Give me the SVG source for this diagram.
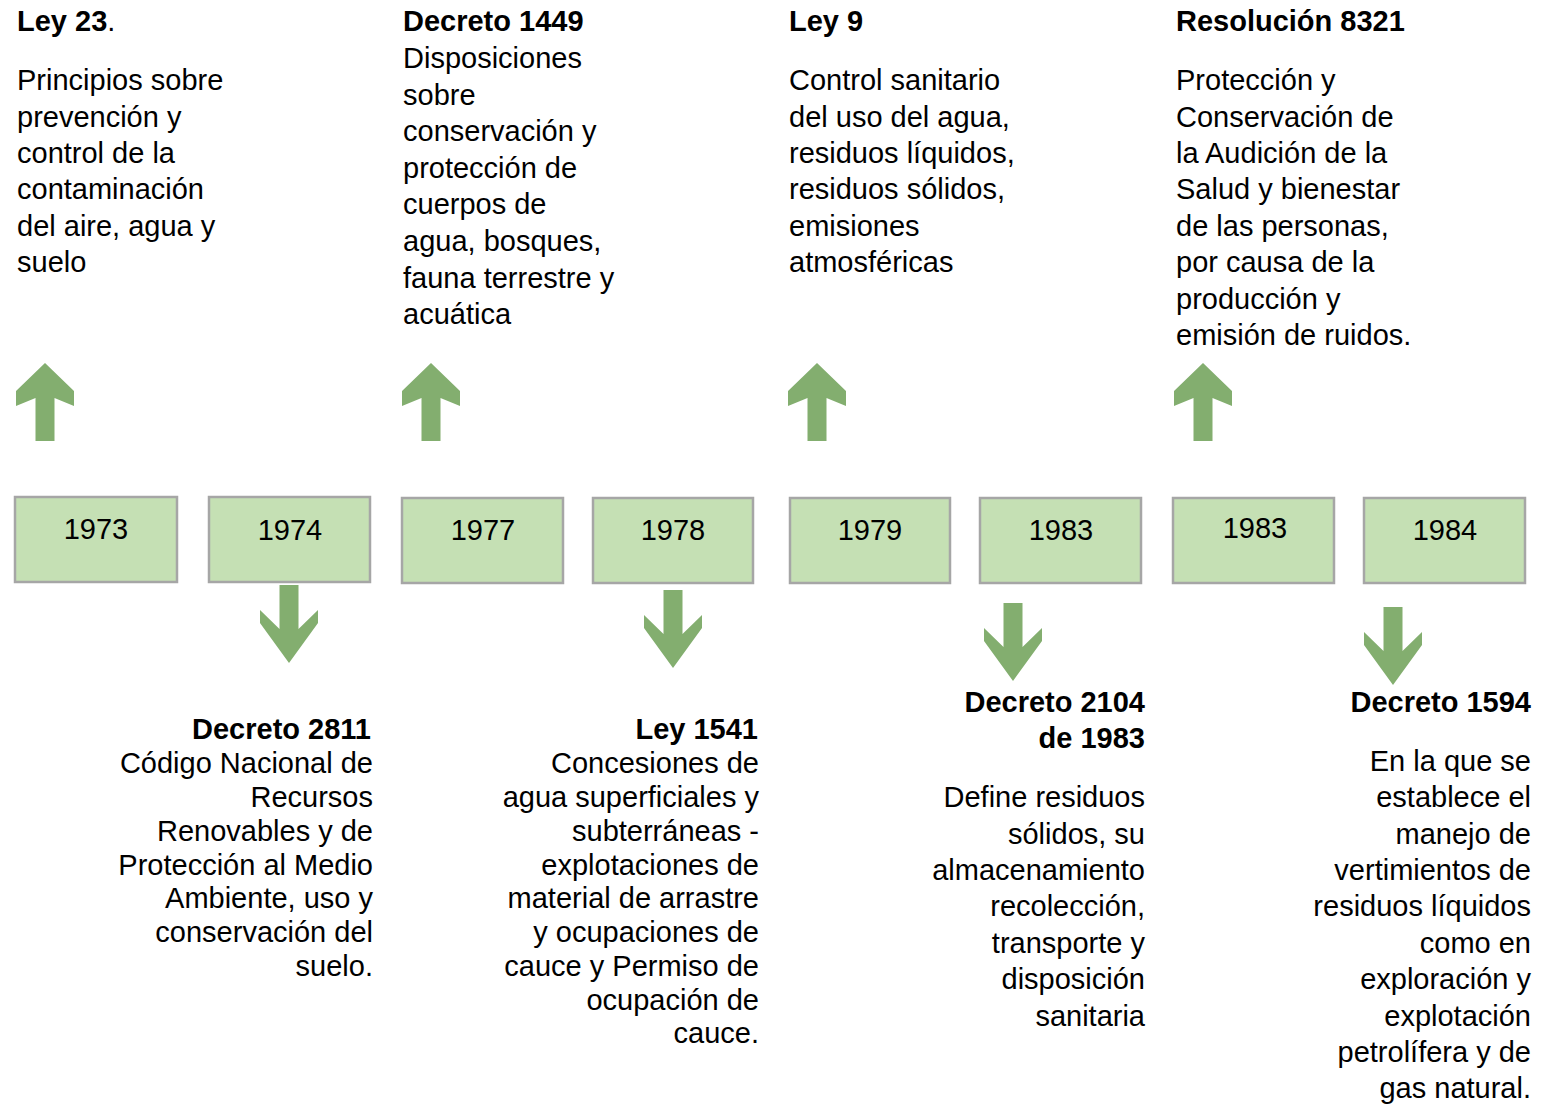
<svg xmlns="http://www.w3.org/2000/svg" width="1541" height="1104" viewBox="0 0 1541 1104">
<style>
  text { font-family: "Liberation Sans", Arial, sans-serif; font-size: 29px; fill: #000; }
  .b { font-weight: bold; }
  .r { text-anchor: end; }
  .yr { text-anchor: middle; }
  .box { fill: #C5E0B4; stroke: #A6A6A6; stroke-width: 2.5; }
  .arr { fill: #83AE6F; }
</style>
<defs>
  <path id="up" d="M0,0 L29,28 L29,43 L9.5,35 L9.5,78 L-9.5,78 L-9.5,35 L-29,43 L-29,28 Z"/>
  <path id="down" d="M0,0 L29,-40 L29,-53 L9.5,-34 L9.5,-78 L-9.5,-78 L-9.5,-34 L-29,-53 L-29,-40 Z"/>
</defs>
<rect width="1541" height="1104" fill="#fff"/>

<g id="connectors">
  <use href="#up" class="arr" x="45" y="363"/>
  <use href="#up" class="arr" x="431" y="363"/>
  <use href="#up" class="arr" x="817" y="363"/>
  <use href="#up" class="arr" x="1203" y="363"/>
  <use href="#down" class="arr" x="289" y="663"/>
  <use href="#down" class="arr" x="673" y="668"/>
  <use href="#down" class="arr" x="1013" y="681"/>
  <use href="#down" class="arr" x="1393" y="685"/>
</g>

<g id="y1973"><rect class="box" x="15" y="497" width="162" height="85"/><text class="yr" x="96" y="539">1973</text></g>
<g id="y1974"><rect class="box" x="209" y="497" width="161" height="85"/><text class="yr" x="290" y="540">1974</text></g>
<g id="y1977"><rect class="box" x="402" y="498" width="161" height="85"/><text class="yr" x="483" y="540">1977</text></g>
<g id="y1978"><rect class="box" x="593" y="498" width="160" height="85"/><text class="yr" x="673" y="540">1978</text></g>
<g id="y1979"><rect class="box" x="790" y="498" width="160" height="85"/><text class="yr" x="870" y="540">1979</text></g>
<g id="y1983a"><rect class="box" x="980" y="498" width="161" height="85"/><text class="yr" x="1061" y="540">1983</text></g>
<g id="y1983b"><rect class="box" x="1173" y="498" width="161" height="85"/><text class="yr" x="1255" y="538">1983</text></g>
<g id="y1984"><rect class="box" x="1364" y="498" width="161" height="85"/><text class="yr" x="1445" y="540">1984</text></g>

<g id="ley23">
  <text x="17" y="31"><tspan class="b">Ley 23</tspan>.</text>
  <text x="17"><tspan x="17" y="90">Principios sobre</tspan><tspan x="17" y="126.5">prevención y</tspan><tspan x="17" y="163">control de la</tspan><tspan x="17" y="199">contaminación</tspan><tspan x="17" y="236">del aire, agua y</tspan><tspan x="17" y="272">suelo</tspan></text>
</g>

<g id="decreto1449">
  <text class="b" x="403" y="31">Decreto 1449</text>
  <text x="403"><tspan x="403" y="68">Disposiciones</tspan><tspan x="403" y="105">sobre</tspan><tspan x="403" y="141">conservación y</tspan><tspan x="403" y="178">protección de</tspan><tspan x="403" y="214">cuerpos de</tspan><tspan x="403" y="251">agua, bosques,</tspan><tspan x="403" y="288">fauna terrestre y</tspan><tspan x="403" y="324">acuática</tspan></text>
</g>

<g id="ley9">
  <text class="b" x="789" y="31">Ley 9</text>
  <text x="789"><tspan x="789" y="90">Control sanitario</tspan><tspan x="789" y="126.5">del uso del agua,</tspan><tspan x="789" y="163">residuos líquidos,</tspan><tspan x="789" y="199">residuos sólidos,</tspan><tspan x="789" y="236">emisiones</tspan><tspan x="789" y="272">atmosféricas</tspan></text>
</g>

<g id="resolucion8321">
  <text class="b" x="1176" y="31">Resolución 8321</text>
  <text x="1176"><tspan x="1176" y="90">Protección y</tspan><tspan x="1176" y="126.5">Conservación de</tspan><tspan x="1176" y="163">la Audición de la</tspan><tspan x="1176" y="199">Salud y bienestar</tspan><tspan x="1176" y="236">de las personas,</tspan><tspan x="1176" y="272">por causa de la</tspan><tspan x="1176" y="309">producción y</tspan><tspan x="1176" y="345">emisión de ruidos.</tspan></text>
</g>

<g id="decreto2811">
  <text class="b r" x="371" y="739">Decreto 2811</text>
  <text class="r" x="373"><tspan x="373" y="773">Código Nacional de</tspan><tspan x="373" y="807">Recursos</tspan><tspan x="373" y="841">Renovables y de</tspan><tspan x="373" y="875">Protección al Medio</tspan><tspan x="373" y="908">Ambiente, uso y</tspan><tspan x="373" y="942">conservación del</tspan><tspan x="373" y="976">suelo.</tspan></text>
</g>

<g id="ley1541">
  <text class="b r" x="758" y="739">Ley 1541</text>
  <text class="r" x="759"><tspan x="759" y="773">Concesiones de</tspan><tspan x="759" y="807">agua superficiales y</tspan><tspan x="759" y="841">subterráneas -</tspan><tspan x="759" y="875">explotaciones de</tspan><tspan x="759" y="908">material de arrastre</tspan><tspan x="759" y="942">y ocupaciones de</tspan><tspan x="759" y="976">cauce y Permiso de</tspan><tspan x="759" y="1010">ocupación de</tspan><tspan x="759" y="1043">cauce.</tspan></text>
</g>

<g id="decreto2104">
  <text class="b r" x="1145"><tspan x="1145" y="712">Decreto 2104</tspan><tspan x="1145" y="748">de 1983</tspan></text>
  <text class="r" x="1145"><tspan x="1145" y="807">Define residuos</tspan><tspan x="1145" y="844">sólidos, su</tspan><tspan x="1145" y="880">almacenamiento</tspan><tspan x="1145" y="916">recolección,</tspan><tspan x="1145" y="953">transporte y</tspan><tspan x="1145" y="989">disposición</tspan><tspan x="1145" y="1026">sanitaria</tspan></text>
</g>

<g id="decreto1594">
  <text class="b r" x="1531" y="712">Decreto 1594</text>
  <text class="r" x="1531"><tspan x="1531" y="771">En la que se</tspan><tspan x="1531" y="807">establece el</tspan><tspan x="1531" y="844">manejo de</tspan><tspan x="1531" y="880">vertimientos de</tspan><tspan x="1531" y="916">residuos líquidos</tspan><tspan x="1531" y="953">como en</tspan><tspan x="1531" y="989">exploración y</tspan><tspan x="1531" y="1026">explotación</tspan><tspan x="1531" y="1062">petrolífera y de</tspan><tspan x="1531" y="1098">gas natural.</tspan></text>
</g>
</svg>
